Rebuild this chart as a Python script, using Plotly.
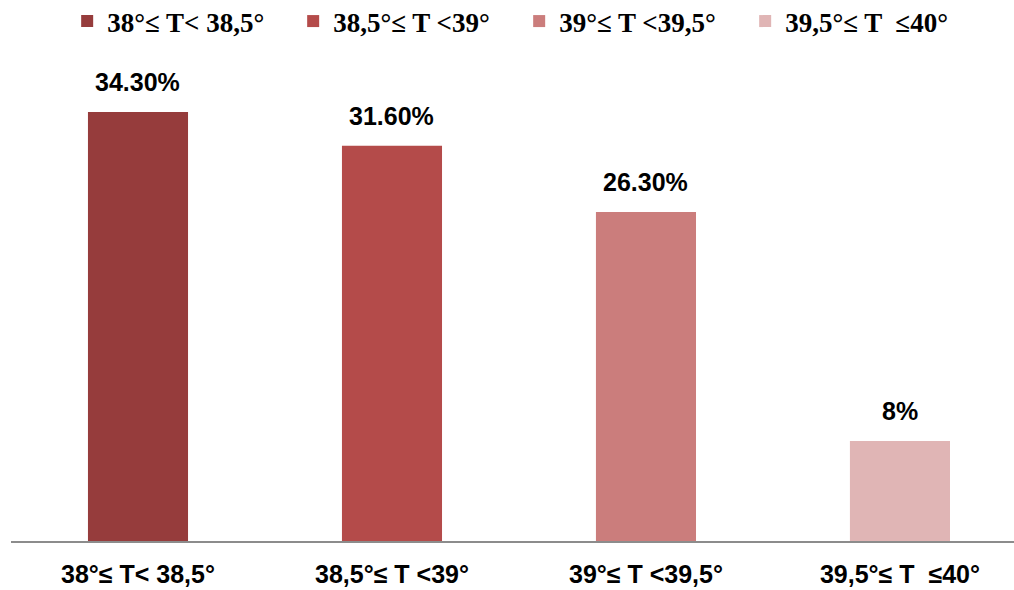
import plotly.graph_objects as go

categories = ["38°≤ T< 38,5°", "38,5°≤ T <39°", "39°≤ T <39,5°", "39,5°≤ T \u00a0≤40°"]
values = [34.3, 31.6, 26.3, 8.0]
value_labels = ["34.30%", "31.60%", "26.30%", "8%"]
colors = ["#963C3C", "#B44B4A", "#CB7D7C", "#E0B5B5"]

label_font = dict(family="Liberation Sans Narrow, Arial Narrow, sans-serif", size=25, color="#000000")

fig = go.Figure()
for cat, val, col in zip(categories, values, colors):
    fig.add_trace(go.Bar(
        x=[cat], y=[val], name=f"<b>{cat}</b>",
        marker=dict(color=col, line=dict(width=0)),
        width=0.394,
        hoverinfo="x+y",
    ))

# value labels sitting above each bar
for cat, val, lab in zip(categories, values, value_labels):
    fig.add_annotation(
        x=cat, y=val, text=f"<b>{lab}</b>", showarrow=False,
        yanchor="bottom", yshift=14, font=label_font,
    )

fig.update_layout(
    width=1014, height=590,
    margin=dict(l=11, r=0, t=60, b=49, autoexpand=False),
    paper_bgcolor="white", plot_bgcolor="white",
    barmode="overlay",
    showlegend=True,
    legend=dict(
        orientation="h", x=0.056, xanchor="left", y=1.08, yanchor="middle",
        font=dict(family="Liberation Serif, Times New Roman, serif", size=27, color="#000000"),
        entrywidth=181, itemwidth=30, traceorder="normal",
        tracegroupgap=0,
    ),
    xaxis=dict(
        categoryorder="array", categoryarray=categories,
        range=[-0.5, 3.449],
        showgrid=False, zeroline=False,
        showline=True, linecolor="#8C8C8C", linewidth=2,
        ticks="", ticklen=0,
        tickfont=label_font,
        tickvals=categories, ticktext=[f"<b>{c}</b>" for c in categories],
        ticklabelstandoff=10,
    ),
    yaxis=dict(range=[0, 38.45], visible=False, showgrid=False, zeroline=False),
)

fig.write_html("out.html")
